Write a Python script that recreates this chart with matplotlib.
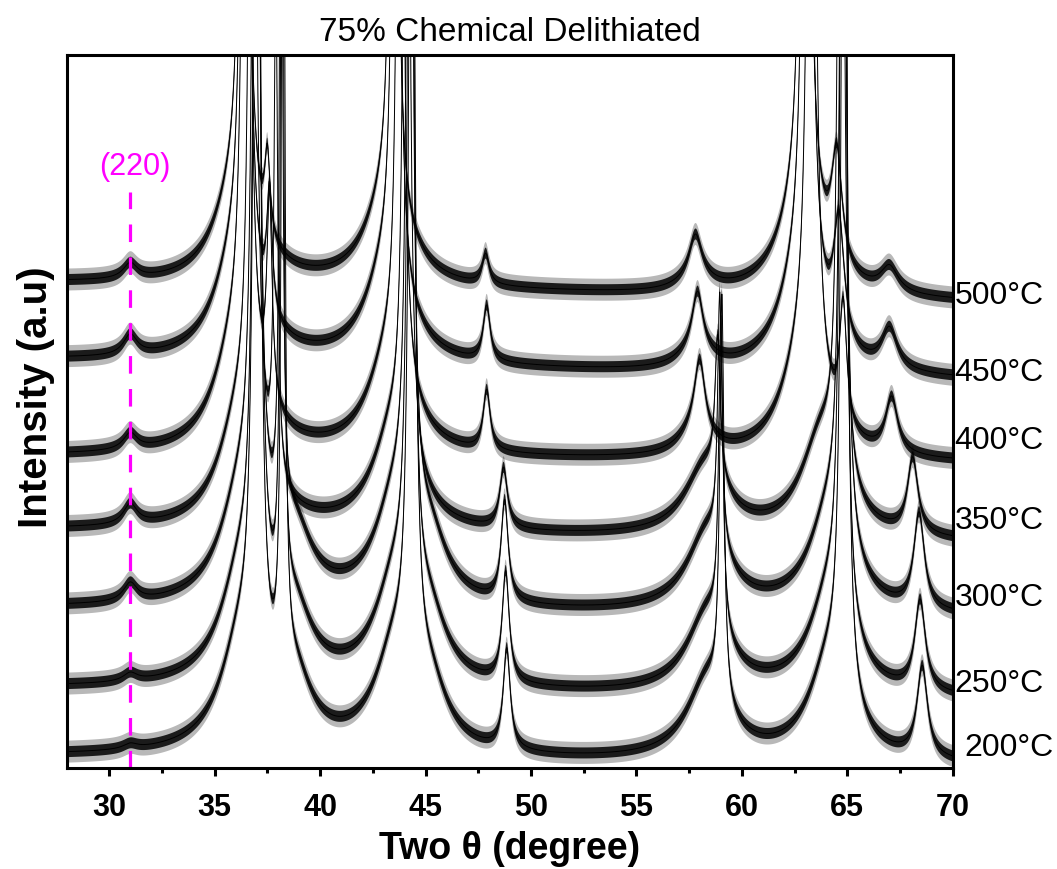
import matplotlib
matplotlib.use("Agg")
import matplotlib.pyplot as plt
import numpy as np
from matplotlib.ticker import MultipleLocator
from matplotlib.transforms import blended_transform_factory

plt.rcParams["font.family"] = ["Liberation Sans", "DejaVu Sans"]

# --- data (intensity in arbitrary units, offset stacked) -------------------
temps = ["200°C", "250°C", "300°C", "350°C", "400°C", "450°C", "500°C"]
base_left = [12, 80, 160, 238, 312, 408, 485]
base_right = [2, 68, 150, 225, 305, 388, 466]
label_y = [20, 84, 170, 247, 327, 395, 472]

# peak centres (2theta), heights and half widths for each pattern
peak_pos = [
    [31.0, 36.3, 37.0, 38.25, 38.8, 43.6, 44.35, 45.2, 48.85, 58.4, 59.05, 64.2, 64.85, 68.55],
    [31.0, 36.3, 37.0, 38.2, 38.8, 43.6, 44.3, 45.2, 48.8, 58.4, 59.0, 64.2, 64.8, 68.45],
    [31.0, 36.3, 36.95, 38.15, 38.8, 43.6, 44.25, 45.2, 48.75, 58.4, 58.95, 64.2, 64.8, 68.4],
    [31.0, 36.2, 36.8, 37.9, 43.5, 44.1, 48.7, 58.3, 58.85, 63.8, 64.7, 68.1],
    [31.0, 36.0, 36.5, 37.6, 43.3, 43.8, 47.9, 57.8, 58.0, 62.9, 63.3, 64.8, 67.1],
    [31.0, 36.0, 36.45, 37.6, 43.2, 43.6, 47.9, 57.8, 57.9, 62.8, 63.1, 64.6, 67.0],
    [31.0, 36.0, 36.4, 37.5, 43.2, 43.5, 47.85, 57.8, 57.8, 62.8, 63.0, 64.5, 67.0],
]
peak_amp = [
    [5, 110, 1500, 1200, 60, 100, 1500, 50, 100, 80, 400, 100, 1500, 90],
    [8, 110, 1500, 1000, 60, 100, 1500, 50, 110, 80, 310, 100, 1500, 90],
    [18, 110, 1500, 900, 60, 100, 1500, 50, 100, 80, 250, 100, 1500, 95],
    [20, 110, 1500, 500, 100, 1500, 60, 70, 140, 100, 1500, 75],
    [16, 110, 1500, 200, 100, 1500, 60, 25, 70, 100, 1500, 120, 55],
    [20, 100, 1500, 120, 100, 1500, 55, 20, 55, 100, 1500, 120, 40],
    [15, 90, 1500, 80, 90, 1500, 30, 15, 40, 90, 1500, 110, 25],
]
peak_wid = [
    [0.4, 1.2, 0.14, 0.08, 1.0, 1.2, 0.12, 1.0, 0.2, 1.2, 0.12, 1.2, 0.12, 0.3],
    [0.4, 1.2, 0.14, 0.08, 1.0, 1.2, 0.12, 1.0, 0.2, 1.2, 0.12, 1.2, 0.12, 0.3],
    [0.4, 1.2, 0.14, 0.08, 1.0, 1.2, 0.12, 1.0, 0.2, 1.2, 0.12, 1.2, 0.12, 0.3],
    [0.4, 1.2, 0.14, 0.1, 1.2, 0.12, 0.22, 1.2, 0.15, 1.2, 0.12, 0.3],
    [0.4, 1.2, 0.14, 0.15, 1.2, 0.12, 0.2, 0.9, 0.3, 1.2, 0.15, 0.2, 0.35],
    [0.4, 1.2, 0.14, 0.15, 1.2, 0.12, 0.2, 0.9, 0.3, 1.2, 0.15, 0.3, 0.45],
    [0.4, 1.2, 0.14, 0.15, 1.2, 0.12, 0.2, 0.9, 0.35, 1.2, 0.15, 0.3, 0.5],
]
noise_amp = 11.0       # half height of the counting noise band
hkl_pos = 31.0
hkl_label = "(220)"

two_theta = np.linspace(28, 70, 4201)


def pattern(i):
    base = np.interp(two_theta, [28, 70], [base_left[i], base_right[i]])
    y = base.copy()
    for c, a, w in zip(peak_pos[i], peak_amp[i], peak_wid[i]):
        y += a * w ** 2 / ((two_theta - c) ** 2 + w ** 2)
    return y


fig = plt.figure(figsize=(10.57, 8.69), dpi=100)
ax = fig.add_axes([0.0634, 0.1162, 0.838, 0.8205])

for i, t in enumerate(temps):
    y = pattern(i)
    ax.fill_between(two_theta, y - noise_amp, y + noise_amp, color="black", alpha=0.28, lw=0)
    ax.fill_between(two_theta, y - noise_amp / 2, y + noise_amp / 2, color="black", alpha=0.85, lw=0)
    ax.plot(two_theta, y, color="black", lw=0.7)

trans = blended_transform_factory(ax.transAxes, ax.transData)
for i, t in enumerate(temps):
    xoff = 1.013 if i == 0 else 1.002
    ax.text(xoff, label_y[i], t, transform=trans, fontsize=23, ha="left", va="center")

ax.plot([hkl_pos, hkl_pos], [0, 576], color="#ff00ff", lw=2.3, ls=(0, (5.5, 4.8)))
ax.text(hkl_pos + 0.2, 601, hkl_label, color="#ff00ff", fontsize=22, ha="center", va="center")

ax.set_xlim(28, 70)
ax.set_ylim(0, 713)
ax.set_yticks([])
ax.xaxis.set_major_locator(MultipleLocator(5))
ax.xaxis.set_minor_locator(MultipleLocator(2.5))
ax.tick_params(axis="x", which="major", direction="out", length=6, width=2.2, labelsize=22, pad=12)
ax.tick_params(axis="x", which="minor", direction="out", length=3.5, width=2.2)
for lab in ax.get_xticklabels():
    lab.set_fontweight("bold")
for s in ax.spines.values():
    s.set_linewidth(2.2)

ax.set_xlabel("Two θ (degree)", fontsize=27, fontweight="bold", labelpad=6)
ax.set_ylabel("Intensity (a.u)", fontsize=29, fontweight="bold")
ax.yaxis.set_label_coords(-0.014, 0.52)
ax.set_title("75% Chemical Delithiated", fontsize=24, pad=10)

fig.savefig("out.png", dpi=100)
